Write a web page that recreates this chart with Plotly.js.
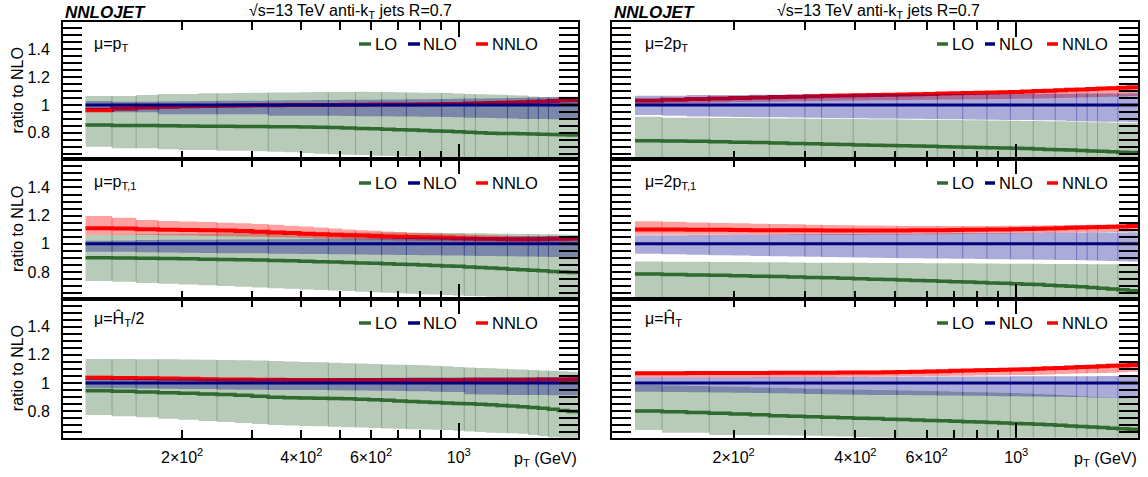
<!DOCTYPE html>
<html><head><meta charset="utf-8">
<script src="https://cdn.plot.ly/plotly-3.0.1.min.js"></script>
<style>html,body{margin:0;padding:0;background:#fff}#chart{width:1148px;height:477px}</style>
</head><body><div id="chart"></div>
<script>
// ---------------- data ----------------
const binEdges = [114,133,153,174,196,220,245,272,300,330,362,395,430,468,507,548,592,638,686,737,790,846,905,967,1032,1101,1172,1248,1327,1410,1497,1588,1684,1784,1890,2000];
const lineEdgesLeft  = [133,153,174,245,330,468,548,638,737,905,1032,1101,1327,1497,1588,1684];
const lineEdgesRight = [133,174,245,300,330,395,507,638,737,846,967,1101,1248,1410,1497,1588,1784];
const xTickVals = [200,400,600,1000];
const xTickText = ['2×10<sup>2</sup>','4×10<sup>2</sup>','6×10<sup>2</sup>','10<sup>3</sup>'];
const xMinorTickVals = [300,500,700,800,900,2000];
const yTickVals = [0.8,1,1.2,1.4];
const yTickText = ['0.8','1','1.2','1.4'];
const orderNames = ['LO','NLO','NNLO'];
const scaleLabels = ['μ=p<sub>T</sub>','μ=2p<sub>T</sub>','μ=p<sub>T,1</sub>','μ=2p<sub>T,1</sub>','μ=Ĥ<sub>T</sub>/2','μ=Ĥ<sub>T</sub>'];
const headerText = '√s=13 TeV anti-k<sub>T</sub> jets R=0.7';
const yTitle = 'ratio to NLO';
const xTitle = 'p<sub>T</sub> (GeV)';

const nlo_c = [1,1,1,1,1,1,1,1,1,1,1,1,1,1,1,1,1,1,1,1,1,1,1,1,1,1,1,1,1,1,1,1,1,1,1];

// panel A : mu = pT
const A_lo      = [0.856,0.853,0.852,0.851,0.850,0.848,0.847,0.846,0.845,0.844,0.843,0.842,0.840,0.838,0.835,0.832,0.829,0.826,0.823,0.820,0.817,0.814,0.811,0.808,0.805,0.801,0.798,0.796,0.795,0.793,0.792,0.790,0.789,0.787,0.785];
const A_loUp    = [1.065,1.065,1.072,1.079,1.079,1.084,1.084,1.086,1.088,1.090,1.090,1.091,1.093,1.094,1.094,1.095,1.094,1.093,1.092,1.090,1.088,1.088,1.086,1.083,1.080,1.078,1.076,1.073,1.071,1.068,1.062,1.058,1.055,1.052,1.050];
const A_loDn    = [0.700,0.689,0.689,0.682,0.677,0.677,0.672,0.672,0.667,0.665,0.660,0.655,0.650,0.646,0.642,0.640,0.636,0.633,0.630,0.628,0.626,0.624,0.622,0.620,0.618,0.616,0.614,0.612,0.610,0.608,0.606,0.604,0.602,0.600,0.598];
const A_nloUp   = [1.029,1.024,1.024,1.026,1.027,1.028,1.030,1.030,1.031,1.032,1.034,1.035,1.036,1.036,1.037,1.038,1.038,1.039,1.040,1.041,1.042,1.043,1.044,1.045,1.046,1.047,1.048,1.048,1.050,1.052,1.054,1.056,1.058,1.059,1.060];
const A_nloDn   = [0.969,0.948,0.948,0.933,0.933,0.933,0.933,0.933,0.933,0.923,0.923,0.923,0.923,0.922,0.921,0.920,0.920,0.919,0.918,0.917,0.916,0.915,0.914,0.912,0.909,0.909,0.907,0.905,0.903,0.900,0.900,0.899,0.898,0.898,0.897];
const A_nnlo    = [0.965,0.975,0.982,0.988,0.991,0.993,0.995,0.997,0.998,0.999,1.000,1.000,1.001,1.001,1.002,1.002,1.003,1.003,1.004,1.004,1.005,1.006,1.007,1.008,1.010,1.012,1.014,1.016,1.018,1.020,1.023,1.026,1.029,1.032,1.035];
const A_nnloUp  = [0.983,0.990,0.995,1.000,1.002,1.004,1.005,1.007,1.008,1.009,1.010,1.010,1.011,1.011,1.012,1.012,1.013,1.013,1.014,1.014,1.015,1.016,1.017,1.018,1.020,1.022,1.024,1.026,1.028,1.030,1.033,1.036,1.039,1.042,1.045];
const A_nnloDn  = [0.945,0.958,0.967,0.975,0.979,0.982,0.984,0.986,0.988,0.989,0.990,0.990,0.991,0.991,0.992,0.992,0.993,0.993,0.994,0.994,0.995,0.996,0.997,0.998,1.000,1.002,1.004,1.006,1.008,1.010,1.013,1.016,1.019,1.022,1.025];

// panel B : mu = 2 pT
const B_lo      = [0.744,0.742,0.739,0.736,0.733,0.730,0.727,0.724,0.721,0.718,0.716,0.713,0.711,0.709,0.707,0.705,0.703,0.701,0.699,0.697,0.695,0.693,0.691,0.689,0.687,0.684,0.681,0.678,0.676,0.673,0.670,0.667,0.664,0.661,0.658];
const B_loUp    = [0.916,0.909,0.909,0.907,0.906,0.905,0.904,0.903,0.902,0.901,0.900,0.899,0.898,0.897,0.896,0.895,0.894,0.893,0.892,0.891,0.890,0.889,0.888,0.887,0.886,0.885,0.884,0.883,0.881,0.879,0.877,0.876,0.875,0.873,0.872];
const B_loDn    = [0.580,0.578,0.576,0.574,0.572,0.570,0.568,0.566,0.564,0.562,0.560,0.558,0.556,0.554,0.552,0.550,0.548,0.546,0.544,0.542,0.540,0.538,0.536,0.534,0.532,0.530,0.528,0.526,0.524,0.522,0.520,0.518,0.516,0.514,0.512];
const B_nloUp   = [1.067,1.067,1.072,1.072,1.072,1.073,1.074,1.075,1.076,1.077,1.078,1.079,1.079,1.079,1.080,1.080,1.080,1.080,1.080,1.080,1.080,1.080,1.080,1.080,1.081,1.081,1.081,1.081,1.081,1.082,1.082,1.082,1.083,1.083,1.084];
const B_nloDn   = [0.928,0.922,0.918,0.915,0.914,0.912,0.912,0.910,0.908,0.906,0.905,0.905,0.904,0.903,0.902,0.901,0.900,0.897,0.897,0.896,0.895,0.894,0.893,0.893,0.892,0.891,0.890,0.888,0.886,0.884,0.882,0.880,0.880,0.879,0.878];
const B_nnlo    = [1.033,1.038,1.043,1.047,1.051,1.054,1.057,1.060,1.063,1.066,1.068,1.070,1.072,1.074,1.076,1.078,1.080,1.082,1.084,1.086,1.088,1.090,1.092,1.094,1.097,1.100,1.103,1.106,1.109,1.112,1.115,1.118,1.121,1.124,1.127];
const B_nnloUp  = [1.043,1.048,1.053,1.057,1.061,1.064,1.067,1.070,1.073,1.076,1.078,1.080,1.082,1.084,1.086,1.088,1.090,1.092,1.094,1.096,1.098,1.100,1.102,1.104,1.107,1.110,1.113,1.116,1.120,1.123,1.126,1.129,1.132,1.135,1.139];
const B_nnloDn  = [1.008,1.012,1.015,1.018,1.021,1.023,1.025,1.027,1.029,1.031,1.032,1.033,1.034,1.035,1.036,1.037,1.038,1.039,1.040,1.041,1.042,1.043,1.044,1.045,1.046,1.047,1.049,1.050,1.052,1.054,1.056,1.058,1.060,1.062,1.064];

// panel C : mu = pT,1
const C_lo      = [0.901,0.899,0.897,0.895,0.893,0.891,0.889,0.887,0.885,0.882,0.879,0.876,0.873,0.870,0.867,0.864,0.861,0.858,0.855,0.852,0.849,0.846,0.843,0.840,0.836,0.832,0.828,0.824,0.820,0.816,0.812,0.808,0.804,0.800,0.796];
const C_loUp    = [1.062,1.065,1.068,1.070,1.072,1.073,1.075,1.076,1.077,1.078,1.079,1.080,1.080,1.081,1.081,1.081,1.081,1.080,1.080,1.079,1.079,1.078,1.077,1.076,1.075,1.074,1.073,1.072,1.071,1.070,1.069,1.068,1.067,1.066,1.065];
const C_loDn    = [0.736,0.730,0.722,0.716,0.710,0.705,0.700,0.695,0.690,0.684,0.680,0.676,0.672,0.668,0.664,0.660,0.656,0.652,0.648,0.645,0.642,0.639,0.636,0.633,0.630,0.627,0.624,0.621,0.618,0.615,0.612,0.609,0.606,0.603,0.600];
const C_nloUp   = [1.022,1.024,1.026,1.028,1.028,1.029,1.030,1.030,1.031,1.032,1.033,1.034,1.035,1.036,1.037,1.038,1.039,1.040,1.041,1.042,1.043,1.044,1.045,1.046,1.047,1.048,1.049,1.050,1.051,1.052,1.053,1.054,1.055,1.056,1.057];
const C_nloDn   = [0.944,0.944,0.940,0.938,0.936,0.935,0.933,0.932,0.932,0.930,0.929,0.928,0.927,0.926,0.925,0.924,0.923,0.922,0.921,0.920,0.919,0.918,0.917,0.916,0.915,0.914,0.913,0.912,0.911,0.910,0.909,0.908,0.907,0.906,0.905];
const C_nnlo    = [1.110,1.108,1.104,1.100,1.098,1.096,1.094,1.090,1.086,1.080,1.076,1.072,1.068,1.064,1.061,1.058,1.055,1.052,1.050,1.048,1.046,1.044,1.042,1.040,1.038,1.036,1.035,1.034,1.033,1.033,1.033,1.034,1.035,1.036,1.037];
const C_nnloUp  = [1.197,1.185,1.169,1.162,1.158,1.155,1.150,1.145,1.140,1.135,1.128,1.122,1.115,1.108,1.102,1.097,1.092,1.087,1.083,1.079,1.076,1.073,1.070,1.067,1.064,1.062,1.060,1.058,1.056,1.055,1.054,1.054,1.054,1.055,1.056];
const C_nnloDn  = [1.062,1.063,1.062,1.060,1.058,1.056,1.054,1.052,1.050,1.047,1.044,1.041,1.038,1.035,1.032,1.030,1.028,1.026,1.024,1.022,1.020,1.019,1.018,1.017,1.016,1.015,1.014,1.013,1.012,1.012,1.012,1.013,1.014,1.015,1.016];

// panel D : mu = 2 pT,1
const D_lo      = [0.785,0.782,0.779,0.776,0.773,0.770,0.767,0.764,0.761,0.758,0.755,0.752,0.749,0.746,0.743,0.740,0.737,0.734,0.731,0.728,0.725,0.722,0.719,0.716,0.713,0.710,0.706,0.702,0.698,0.694,0.689,0.684,0.679,0.673,0.667];
const D_loUp    = [0.875,0.873,0.872,0.871,0.870,0.869,0.868,0.867,0.866,0.866,0.865,0.865,0.864,0.864,0.863,0.863,0.862,0.862,0.861,0.861,0.860,0.860,0.859,0.859,0.858,0.858,0.857,0.857,0.856,0.856,0.855,0.855,0.854,0.854,0.853];
const D_loDn    = [0.590,0.588,0.586,0.584,0.582,0.580,0.578,0.576,0.574,0.572,0.570,0.568,0.566,0.564,0.562,0.560,0.558,0.556,0.554,0.552,0.550,0.548,0.546,0.544,0.542,0.540,0.538,0.536,0.534,0.532,0.530,0.528,0.526,0.524,0.522];
const D_nloUp   = [1.060,1.061,1.062,1.063,1.064,1.065,1.066,1.067,1.068,1.069,1.070,1.070,1.071,1.071,1.072,1.072,1.073,1.073,1.074,1.074,1.075,1.075,1.076,1.076,1.077,1.077,1.078,1.078,1.079,1.079,1.080,1.080,1.081,1.081,1.082];
const D_nloDn   = [0.930,0.926,0.922,0.919,0.916,0.914,0.912,0.910,0.908,0.906,0.904,0.902,0.900,0.899,0.898,0.897,0.896,0.895,0.894,0.893,0.892,0.891,0.890,0.889,0.888,0.887,0.886,0.885,0.884,0.883,0.882,0.880,0.878,0.876,0.874];
const D_nnlo    = [1.102,1.101,1.100,1.099,1.098,1.097,1.097,1.096,1.096,1.095,1.095,1.095,1.095,1.095,1.095,1.096,1.096,1.097,1.098,1.099,1.100,1.101,1.102,1.103,1.105,1.107,1.109,1.111,1.113,1.115,1.117,1.119,1.121,1.123,1.126];
const D_nnloUp  = [1.160,1.156,1.152,1.148,1.145,1.142,1.140,1.138,1.136,1.134,1.132,1.130,1.129,1.128,1.127,1.126,1.126,1.126,1.126,1.126,1.127,1.127,1.128,1.128,1.129,1.130,1.131,1.132,1.133,1.134,1.135,1.136,1.137,1.138,1.140];
const D_nnloDn  = [1.065,1.065,1.065,1.065,1.065,1.065,1.065,1.065,1.065,1.065,1.065,1.065,1.066,1.066,1.066,1.067,1.067,1.068,1.069,1.070,1.071,1.072,1.073,1.074,1.075,1.076,1.077,1.078,1.079,1.080,1.081,1.082,1.083,1.084,1.085];

// panel E : mu = HT/2
const E_lo      = [0.945,0.940,0.935,0.930,0.926,0.922,0.917,0.912,0.905,0.898,0.895,0.893,0.891,0.889,0.887,0.884,0.880,0.876,0.872,0.868,0.864,0.860,0.857,0.854,0.851,0.848,0.844,0.840,0.835,0.830,0.825,0.819,0.812,0.804,0.796];
const E_loUp    = [1.170,1.170,1.168,1.168,1.167,1.166,1.164,1.162,1.160,1.156,1.153,1.150,1.147,1.144,1.141,1.138,1.135,1.132,1.130,1.128,1.126,1.122,1.118,1.114,1.110,1.106,1.104,1.101,1.098,1.095,1.092,1.089,1.086,1.083,1.080];
const E_loDn    = [0.772,0.763,0.755,0.745,0.737,0.729,0.722,0.715,0.708,0.700,0.697,0.694,0.691,0.688,0.685,0.682,0.679,0.676,0.673,0.670,0.668,0.666,0.664,0.660,0.655,0.650,0.646,0.643,0.641,0.638,0.630,0.620,0.612,0.605,0.600];
const E_nloUp   = [1.026,1.027,1.028,1.028,1.029,1.030,1.030,1.031,1.032,1.033,1.033,1.034,1.034,1.035,1.035,1.036,1.036,1.037,1.037,1.038,1.038,1.038,1.039,1.039,1.039,1.040,1.040,1.040,1.041,1.041,1.042,1.042,1.043,1.043,1.044];
const E_nloDn   = [0.962,0.962,0.960,0.958,0.957,0.956,0.954,0.952,0.951,0.950,0.950,0.950,0.949,0.948,0.947,0.946,0.945,0.944,0.943,0.941,0.940,0.938,0.936,0.935,0.920,0.918,0.917,0.916,0.915,0.914,0.914,0.914,0.913,0.913,0.912];
const E_nnlo    = [1.037,1.035,1.033,1.031,1.029,1.027,1.025,1.024,1.023,1.022,1.021,1.021,1.021,1.021,1.021,1.021,1.021,1.021,1.021,1.021,1.021,1.021,1.021,1.021,1.022,1.022,1.022,1.022,1.023,1.023,1.023,1.024,1.024,1.025,1.026];
const E_nnloUp  = [1.052,1.049,1.046,1.043,1.040,1.038,1.035,1.034,1.032,1.031,1.030,1.030,1.030,1.029,1.029,1.029,1.029,1.029,1.029,1.029,1.029,1.029,1.029,1.029,1.030,1.030,1.030,1.030,1.031,1.031,1.032,1.033,1.033,1.034,1.036];
const E_nnloDn  = [1.021,1.020,1.019,1.018,1.017,1.016,1.015,1.014,1.014,1.013,1.013,1.013,1.013,1.013,1.013,1.013,1.013,1.013,1.013,1.013,1.013,1.013,1.013,1.013,1.014,1.014,1.014,1.014,1.014,1.014,1.014,1.015,1.015,1.016,1.016];

// panel F : mu = HT
const F_lo      = [0.800,0.795,0.790,0.785,0.779,0.773,0.767,0.763,0.759,0.755,0.752,0.749,0.746,0.742,0.739,0.736,0.733,0.730,0.727,0.724,0.721,0.718,0.715,0.712,0.709,0.706,0.702,0.698,0.694,0.690,0.686,0.682,0.678,0.674,0.670];
const F_loUp    = [0.985,0.982,0.978,0.975,0.972,0.968,0.965,0.962,0.958,0.955,0.953,0.951,0.950,0.948,0.946,0.944,0.942,0.940,0.938,0.936,0.934,0.932,0.930,0.928,0.925,0.922,0.918,0.914,0.910,0.906,0.902,0.898,0.895,0.892,0.890];
const F_loDn    = [0.665,0.646,0.646,0.630,0.630,0.630,0.628,0.626,0.624,0.620,0.618,0.615,0.612,0.609,0.606,0.603,0.600,0.597,0.594,0.591,0.588,0.585,0.582,0.579,0.576,0.573,0.570,0.567,0.564,0.561,0.558,0.555,0.552,0.549,0.546];
const F_nloUp   = [1.040,1.040,1.041,1.041,1.041,1.042,1.042,1.042,1.043,1.043,1.043,1.044,1.044,1.044,1.044,1.045,1.045,1.045,1.045,1.046,1.046,1.046,1.046,1.047,1.047,1.047,1.047,1.048,1.048,1.048,1.048,1.049,1.049,1.049,1.050];
const F_nloDn   = [0.938,0.936,0.934,0.932,0.930,0.928,0.926,0.924,0.922,0.920,0.918,0.916,0.915,0.914,0.914,0.913,0.912,0.911,0.910,0.909,0.908,0.907,0.906,0.905,0.904,0.903,0.902,0.901,0.900,0.899,0.897,0.895,0.893,0.891,0.890];
const F_nnlo    = [1.069,1.069,1.070,1.070,1.071,1.071,1.072,1.072,1.073,1.073,1.074,1.074,1.075,1.076,1.078,1.080,1.082,1.084,1.086,1.088,1.090,1.092,1.094,1.096,1.098,1.101,1.104,1.107,1.110,1.113,1.116,1.119,1.122,1.125,1.128];
const F_nnloUp  = [1.080,1.080,1.081,1.081,1.082,1.082,1.083,1.083,1.084,1.084,1.085,1.086,1.087,1.088,1.090,1.092,1.094,1.096,1.098,1.100,1.102,1.104,1.106,1.108,1.110,1.113,1.116,1.119,1.122,1.126,1.129,1.133,1.136,1.140,1.144];
const F_nnloDn  = [1.040,1.040,1.040,1.040,1.041,1.041,1.042,1.042,1.043,1.043,1.044,1.044,1.045,1.046,1.047,1.048,1.049,1.050,1.051,1.052,1.053,1.054,1.055,1.056,1.057,1.059,1.061,1.063,1.065,1.067,1.069,1.071,1.073,1.076,1.080];

// ---------------- styling / layout helpers ----------------
const W = 1148, H = 477;
const FONT = 'Liberation Sans, Arial, Helvetica, sans-serif';
const colLine = ['#2f6a2f', '#00007d', '#ff0000'];
const colBand = ['rgba(51,102,51,0.35)', 'rgba(0,0,140,0.33)', 'rgba(255,0,0,0.37)'];
const lineW = [3.5, 3, 4];

const colPx = [[63, 578], [612, 1138]];
const rowPx = [[21.5, 159.3], [159.3, 298.7], [298.7, 437.7]];
const px = v => v / W, py = v => 1 - v / H;

const panels = [
  {lo:A_lo, loUp:A_loUp, loDn:A_loDn, nloUp:A_nloUp, nloDn:A_nloDn, nnlo:A_nnlo, nnloUp:A_nnloUp, nnloDn:A_nnloDn},
  {lo:B_lo, loUp:B_loUp, loDn:B_loDn, nloUp:B_nloUp, nloDn:B_nloDn, nnlo:B_nnlo, nnloUp:B_nnloUp, nnloDn:B_nnloDn},
  {lo:C_lo, loUp:C_loUp, loDn:C_loDn, nloUp:C_nloUp, nloDn:C_nloDn, nnlo:C_nnlo, nnloUp:C_nnloUp, nnloDn:C_nnloDn},
  {lo:D_lo, loUp:D_loUp, loDn:D_loDn, nloUp:D_nloUp, nloDn:D_nloDn, nnlo:D_nnlo, nnloUp:D_nnloUp, nnloDn:D_nnloDn},
  {lo:E_lo, loUp:E_loUp, loDn:E_loDn, nloUp:E_nloUp, nloDn:E_nloDn, nnlo:E_nnlo, nnloUp:E_nnloUp, nnloDn:E_nnloDn},
  {lo:F_lo, loUp:F_loUp, loDn:F_loDn, nloUp:F_nloUp, nloDn:F_nloDn, nnlo:F_nnlo, nnloUp:F_nnloUp, nnloDn:F_nnloDn}
];

const stepY = v => v.concat([v[v.length - 1]]);
const traces = [];
const layout = {
  width: W, height: H, margin: {l:0, r:0, t:0, b:0},
  paper_bgcolor: '#fff', plot_bgcolor: 'rgba(0,0,0,0)',
  showlegend: false, hovermode: false,
  font: {family: FONT, size: 16, color: '#000'},
  annotations: [], shapes: []
};

function band(ax, ay, up, dn, k, edgesForLines) {
  traces.push({x: binEdges, y: stepY(up), xaxis: ax, yaxis: ay, mode: 'lines',
    line: {width: 0, shape: 'hv', color: colBand[k]}, hoverinfo: 'skip'});
  traces.push({x: binEdges, y: stepY(dn), xaxis: ax, yaxis: ay, mode: 'lines', fill: 'tonexty',
    fillcolor: colBand[k], line: {width: 0, shape: 'hv', color: colBand[k]}, hoverinfo: 'skip'});
  const lx = [], ly = [];
  edgesForLines.forEach(e => {
    const i = binEdges.indexOf(e);
    if (i < 1 || i >= up.length) return;
    const hi = Math.min(up[i - 1], up[i]), lo = Math.max(dn[i - 1], dn[i]);
    if (hi <= lo) return;
    lx.push(e, e, null); ly.push(lo, hi, null);
  });
  traces.push({x: lx, y: ly, xaxis: ax, yaxis: ay, mode: 'lines',
    line: {width: 1, color: colBand[k]}, hoverinfo: 'skip'});
}
function central(ax, ay, v, k) {
  traces.push({x: binEdges, y: stepY(v), xaxis: ax, yaxis: ay, mode: 'lines', name: orderNames[k],
    line: {width: lineW[k], shape: 'hv', color: colLine[k]}, hoverinfo: 'skip'});
}

panels.forEach((p, idx) => {
  const n = idx + 1;
  const col = idx % 2, row = Math.floor(idx / 2);
  const ax = 'x' + (n === 1 ? '' : n), ay = 'y' + (n === 1 ? '' : n);
  const edgesL = col === 0 ? lineEdgesLeft : lineEdgesRight;
  band(ax, ay, p.loUp, p.loDn, 0, edgesL);
  central(ax, ay, p.lo, 0);
  band(ax, ay, p.nnloUp, p.nnloDn, 2, edgesL);
  central(ax, ay, p.nnlo, 2);
  band(ax, ay, p.nloUp, p.nloDn, 1, edgesL);
  central(ax, ay, nlo_c, 1);

  const xd = [px(colPx[col][0]), px(colPx[col][1])];
  const yd = [py(rowPx[row][1]), py(rowPx[row][0])];
  const bottom = row === 2;
  layout['xaxis' + (n === 1 ? '' : n)] = {
    type: 'log', range: [2, Math.log10(2000)], domain: xd, anchor: ay,
    tickmode: 'array', tickvals: xTickVals, ticktext: xTickText,
    showticklabels: bottom, ticks: 'inside', ticklen: 8, tickwidth: 2, tickcolor: '#000',
    minor: {tickmode: 'array', tickvals: xMinorTickVals, ticks: 'inside', ticklen: 8, tickwidth: 2, tickcolor: '#000'},
    showline: true, linewidth: 2, linecolor: '#000', mirror: 'allticks',
    showgrid: false, zeroline: false, ticklabelstandoff: 4,
    tickfont: {family: FONT, size: 16}
  };
  // long decade tick at 10^3
  const ox = 'x' + (n + 6);
  layout['xaxis' + (n + 6)] = {
    type: 'log', range: [2, Math.log10(2000)], domain: xd, anchor: ay, overlaying: ax,
    tickmode: 'array', tickvals: [1000], showticklabels: false,
    ticks: 'inside', ticklen: 15, tickwidth: 2, tickcolor: '#000',
    showline: false, mirror: 'allticks', showgrid: false, zeroline: false
  };
  traces.push({x: [1000], y: [null], xaxis: ox, yaxis: ay, mode: 'lines', hoverinfo: 'skip'});

  layout['yaxis' + (n === 1 ? '' : n)] = {
    range: [0.61, 1.6], domain: yd, anchor: ax,
    tickmode: 'array', tickvals: yTickVals, ticktext: yTickText,
    showticklabels: col === 0, ticks: 'inside', ticklen: 19, tickwidth: 2, tickcolor: '#000',
    minor: {tickmode: 'linear', tick0: 0, dtick: 0.05, ticks: 'inside', ticklen: 10, tickwidth: 2, tickcolor: '#000'},
    showline: true, linewidth: 2, linecolor: '#000', mirror: 'allticks',
    showgrid: false, zeroline: false, ticklabelstandoff: 8,
    tickfont: {family: FONT, size: 16}
  };

  // scale label
  const labX = col === 0 ? 92 : 643;
  const labY = [44, 182, 319][row];
  layout.annotations.push({xref: 'paper', yref: 'paper', x: px(labX), y: py(labY), xanchor: 'left', yanchor: 'middle',
    text: scaleLabels[idx], showarrow: false, font: {family: FONT, size: 16}});

  // legend
  const legY = [44, 183, 323][row];
  const sw = col === 0 ? [[359, 371], [408, 420], [476, 488]] : [[937, 948], [985, 995], [1047, 1058]];
  const tx = col === 0 ? [373, 421, 490] : [950, 997, 1060];
  for (let k = 0; k < 3; k++) {
    layout.shapes.push({type: 'line', xref: 'paper', yref: 'paper', x0: px(sw[k][0]), x1: px(sw[k][1]),
      y0: py(legY), y1: py(legY), line: {color: colLine[k], width: 3.5}});
    layout.annotations.push({xref: 'paper', yref: 'paper', x: px(tx[k]), y: py(legY), xanchor: 'left', yanchor: 'middle',
      text: orderNames[k], showarrow: false, font: {family: FONT, size: 16.5}});
  }
  if (col === 0) {
    layout.annotations.push({xref: 'paper', yref: 'paper', x: px(17), y: py((rowPx[row][0] + rowPx[row][1]) / 2),
      xanchor: 'center', yanchor: 'middle', textangle: -90, text: yTitle, showarrow: false, font: {family: FONT, size: 16}});
  }
  if (bottom) {
    layout.annotations.push({xref: 'paper', yref: 'paper', x: px(col === 0 ? 512 : 1072), y: py(448), xanchor: 'left', yanchor: 'top',
      text: xTitle, showarrow: false, font: {family: FONT, size: 16}});
  }
});

// headers
[[63, 247], [612, 775]].forEach(([a, b]) => {
  layout.annotations.push({xref: 'paper', yref: 'paper', x: px(a), y: py(12.5), xanchor: 'left', yanchor: 'middle',
    text: '<b><i>NNLOJET</i></b>', showarrow: false, font: {family: FONT, size: 17}});
  layout.annotations.push({xref: 'paper', yref: 'paper', x: px(b), y: py(0), xanchor: 'left', yanchor: 'top',
    text: headerText, showarrow: false, font: {family: FONT, size: 16}});
});

Plotly.newPlot('chart', traces, layout, {staticPlot: true, displayModeBar: false});
</script></body></html>
